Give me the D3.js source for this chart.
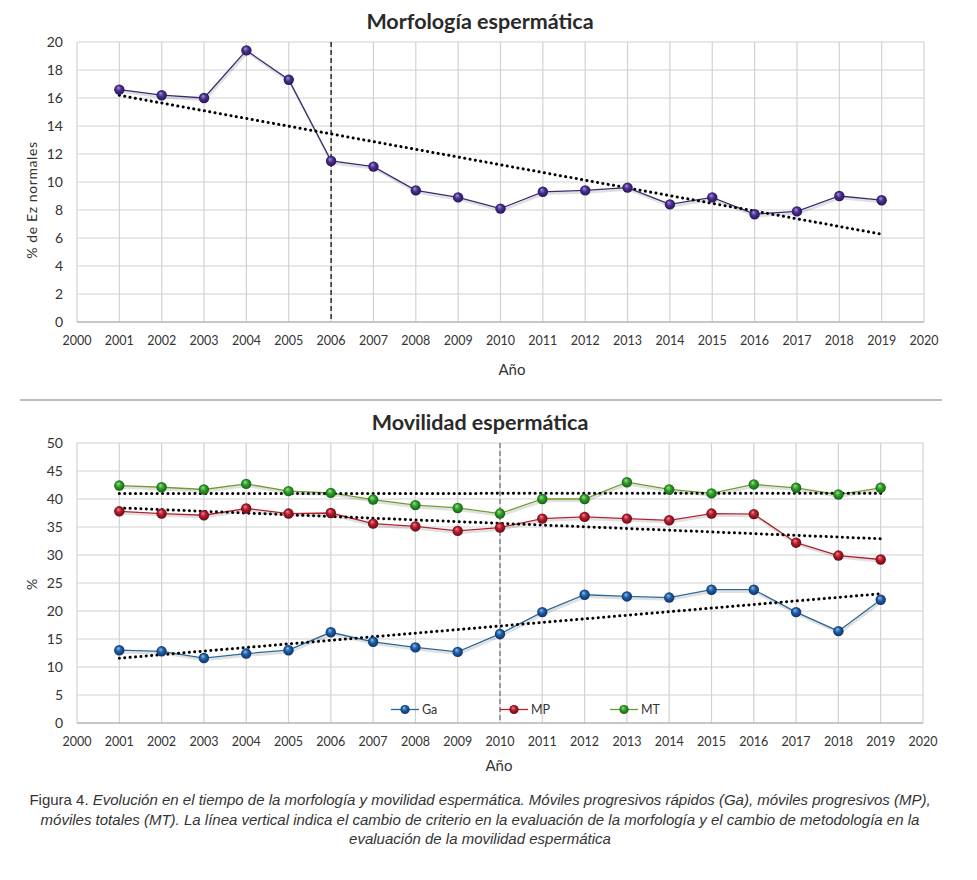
<!DOCTYPE html>
<html>
<head>
<meta charset="utf-8">
<script src="https://cdn.jsdelivr.net/npm/d3@7/dist/d3.min.js"></script>
<style>
  html, body { margin: 0; padding: 0; background: #fff; }
  svg { display: block; }
</style>
</head>
<body>
<svg id="chart" width="977" height="880"></svg>
<script>
// ---------- DATA ----------
const years = [2001, 2002, 2003, 2004, 2005, 2006, 2007, 2008, 2009, 2010,
               2011, 2012, 2013, 2014, 2015, 2016, 2017, 2018, 2019];
const xTickLabels = [2000, 2001, 2002, 2003, 2004, 2005, 2006, 2007, 2008, 2009, 2010,
                     2011, 2012, 2013, 2014, 2015, 2016, 2017, 2018, 2019, 2020];

// Morfología espermática (% de Ez normales)
const morfologia = [16.6, 16.2, 16.0, 19.4, 17.3, 11.5, 11.1, 9.4, 8.9, 8.1,
                    9.3, 9.4, 9.6, 8.4, 8.9, 7.7, 7.9, 9.0, 8.7];
const morfTicks = [0, 2, 4, 6, 8, 10, 12, 14, 16, 18, 20];
const morfChangeYear = 2006;

// Movilidad espermática (%)
const ga = [13.0, 12.8, 11.6, 12.4, 13.0, 16.2, 14.5, 13.5, 12.7, 15.9,
            19.8, 22.9, 22.6, 22.4, 23.8, 23.8, 19.8, 16.4, 22.0];
const mp = [37.8, 37.4, 37.1, 38.3, 37.4, 37.5, 35.6, 35.1, 34.3, 34.9,
            36.5, 36.8, 36.5, 36.2, 37.4, 37.3, 32.2, 29.9, 29.2];
const mt = [42.4, 42.1, 41.7, 42.7, 41.4, 41.1, 39.9, 38.9, 38.4, 37.4,
            40.0, 40.0, 43.0, 41.7, 41.0, 42.6, 42.0, 40.8, 42.0];
const movTicks = [0, 5, 10, 15, 20, 25, 30, 35, 40, 45, 50];
const movChangeYear = 2010;
const seriesNames = ["Ga", "MP", "MT"];

const titles = ["Morfología espermática", "Movilidad espermática"];
const yTitles = ["% de Ez normales", "%"];
const xTitle = "Año";
const captionLines = [
  [{t: "Figura 4. ", i: false}, {t: "Evolución en el tiempo de la morfología y movilidad espermática. Móviles progresivos rápidos (Ga), móviles progresivos (MP),", i: true}],
  [{t: "móviles totales (MT). La línea vertical indica el cambio de criterio en la evaluación de la morfología y el cambio de metodología en la", i: true}],
  [{t: "evaluación de la movilidad espermática", i: true}]
];

// ---------- STYLE ----------
const FONT = "Lato, 'Open Sans', 'Liberation Sans', sans-serif";
const svg = d3.select("#chart");
const defs = svg.append("defs");

const palette = {
  purple: {line: "#3d2970", base: "#4b2f8f", light: "#a596e0", dark: "#22124f"},
  blue:   {line: "#2b6797", base: "#1f5fa6", light: "#8cc0f0", dark: "#0c2c5c"},
  red:    {line: "#b3202e", base: "#b51c2c", light: "#f08890", dark: "#5a0a12"},
  green:  {line: "#6e9c2e", base: "#2f9e2a", light: "#9be585", dark: "#125810"}
};
Object.entries(palette).forEach(([k, c]) => {
  const g = defs.append("radialGradient").attr("id", "grad-" + k)
    .attr("cx", "50%").attr("cy", "50%").attr("r", "55%")
    .attr("fx", "38%").attr("fy", "30%");
  g.append("stop").attr("offset", "0%").attr("stop-color", c.light);
  g.append("stop").attr("offset", "45%").attr("stop-color", c.base);
  g.append("stop").attr("offset", "100%").attr("stop-color", c.dark);
});

// linear regression for Excel-style trendline
function trend(xs, ys) {
  const n = xs.length;
  const mx = d3.mean(xs), my = d3.mean(ys);
  let sxy = 0, sxx = 0;
  for (let i = 0; i < n; i++) { sxy += (xs[i] - mx) * (ys[i] - my); sxx += (xs[i] - mx) ** 2; }
  const b = sxy / sxx, a = my - b * mx;
  return [[xs[0], a + b * xs[0]], [xs[n - 1], a + b * xs[n - 1]]];
}

function drawPanel(opt) {
  const x = d3.scaleLinear().domain([2000, 2020]).range([opt.left, opt.right]);
  const y = d3.scaleLinear().domain([0, d3.max(opt.yTicks)]).range([opt.bottom, opt.top]);
  const g = svg.append("g");

  // grid
  g.append("g").selectAll("line.h").data(opt.yTicks.slice(1)).join("line")
    .attr("x1", opt.left).attr("x2", opt.right)
    .attr("y1", d => y(d)).attr("y2", d => y(d))
    .attr("stroke", "#d2d2d2").attr("stroke-width", 1.2);
  g.append("g").selectAll("line.v").data(xTickLabels).join("line")
    .attr("x1", d => x(d)).attr("x2", d => x(d))
    .attr("y1", opt.top).attr("y2", opt.bottom)
    .attr("stroke", "#d2d2d2").attr("stroke-width", 1.2);
  // baseline
  g.append("line").attr("x1", opt.left).attr("x2", opt.right)
    .attr("y1", y(0)).attr("y2", y(0))
    .attr("stroke", "#b4b4b4").attr("stroke-width", 1.6);

  // y tick labels
  g.append("g").selectAll("text").data(opt.yTicks).join("text")
    .attr("x", opt.left - 14).attr("y", d => y(d) + 5)
    .attr("text-anchor", "end").attr("font-family", FONT).attr("font-size", 14)
    .attr("fill", "#333").text(d => d);
  // x tick labels
  g.append("g").selectAll("text").data(xTickLabels).join("text")
    .attr("x", d => x(d)).attr("y", opt.bottom + 23)
    .attr("text-anchor", "middle").attr("font-family", FONT).attr("font-size", 12.5)
    .attr("fill", "#333").text(d => d);

  // titles
  g.append("text").attr("x", 480).attr("y", opt.top - 13)
    .attr("text-anchor", "middle").attr("font-family", FONT).attr("font-weight", "bold")
    .attr("font-size", 21.5).attr("fill", "#2a2a2a").text(opt.title);
  g.append("text").attr("x", opt.xTitleX).attr("y", opt.bottom + opt.xTitleDy)
    .attr("text-anchor", "middle").attr("font-family", FONT).attr("font-size", 15)
    .attr("fill", "#333").text(xTitle);
  g.append("text").attr("transform", `translate(37,${opt.yTitleY}) rotate(-90)`)
    .attr("text-anchor", "middle").attr("font-family", FONT).attr("font-size", 14)
    .attr("letter-spacing", 0.6).attr("fill", "#333").text(opt.yTitle);

  // vertical change line
  g.append("line").attr("x1", x(opt.changeYear)).attr("x2", x(opt.changeYear))
    .attr("y1", opt.top).attr("y2", opt.bottom)
    .attr("stroke", opt.changeColor).attr("stroke-width", opt.changeWidth)
    .attr("stroke-dasharray", "5,3");

  const line = d3.line().x(d => x(d[0])).y(d => y(d[1]));

  // series
  opt.series.forEach(s => {
    const pts = years.map((yr, i) => [yr, s.values[i]]);
    g.append("path").datum(pts).attr("d", line)
      .attr("fill", "none").attr("stroke", "#000").attr("stroke-opacity", 0.12)
      .attr("stroke-width", 2.5).attr("transform", "translate(1,2)");
    g.append("path").datum(pts).attr("d", line)
      .attr("fill", "none").attr("stroke", palette[s.color].line).attr("stroke-width", 1.3);
  });
  // trendlines
  opt.series.forEach(s => {
    g.append("path").datum(trend(years, s.values)).attr("d", line)
      .attr("fill", "none").attr("stroke", "#000").attr("stroke-width", 3)
      .attr("stroke-linecap", "round").attr("stroke-dasharray", "0.1,5.3");
  });
  // markers
  opt.series.forEach(s => {
    const pts = years.map((yr, i) => [yr, s.values[i]]);
    g.append("g").selectAll("circle").data(pts).join("circle")
      .attr("cx", d => x(d[0])).attr("cy", d => y(d[1])).attr("r", 5.2)
      .attr("fill", `url(#grad-${s.color})`);
  });

  return {x, y, g};
}

drawPanel({
  left: 77, right: 924, top: 42, bottom: 322,
  yTicks: morfTicks, title: titles[0], yTitle: yTitles[0], yTitleY: 200,
  xTitleX: 512, xTitleDy: 53,
  changeYear: morfChangeYear, changeColor: "#000", changeWidth: 1.2,
  series: [{values: morfologia, color: "purple"}]
});

// separator
svg.append("line").attr("x1", 20).attr("x2", 942).attr("y1", 400).attr("y2", 400)
  .attr("stroke", "#bdbdbd").attr("stroke-width", 2);

drawPanel({
  left: 77, right: 923, top: 443, bottom: 723,
  yTicks: movTicks, title: titles[1], yTitle: yTitles[1], yTitleY: 584,
  xTitleX: 499, xTitleDy: 48,
  changeYear: movChangeYear, changeColor: "#555", changeWidth: 1,
  series: [{values: ga, color: "blue"}, {values: mp, color: "red"}, {values: mt, color: "green"}]
});

// legend
const legendX = [391, 500, 610];
const legendColors = ["blue", "red", "green"];
const lg = svg.append("g");
seriesNames.forEach((name, i) => {
  const lx = legendX[i], ly = 709.5;
  lg.append("line").attr("x1", lx).attr("x2", lx + 28).attr("y1", ly).attr("y2", ly)
    .attr("stroke", palette[legendColors[i]].line).attr("stroke-width", 1.3);
  lg.append("circle").attr("cx", lx + 14).attr("cy", ly).attr("r", 4.6)
    .attr("fill", `url(#grad-${legendColors[i]})`);
  lg.append("text").attr("x", lx + 31).attr("y", ly + 4.5)
    .attr("font-family", FONT).attr("font-size", 12.5).attr("fill", "#333").text(name);
});

// caption
const cap = svg.append("g");
captionLines.forEach((parts, i) => {
  const t = cap.append("text").attr("x", 480).attr("y", 805 + i * 19.5)
    .attr("text-anchor", "middle").attr("font-family", "'Liberation Sans', Arial, sans-serif")
    .attr("font-size", 15).attr("fill", "#333");
  parts.forEach(p => t.append("tspan").attr("font-style", p.i ? "italic" : "normal").text(p.t));
});
</script>
</body>
</html>
